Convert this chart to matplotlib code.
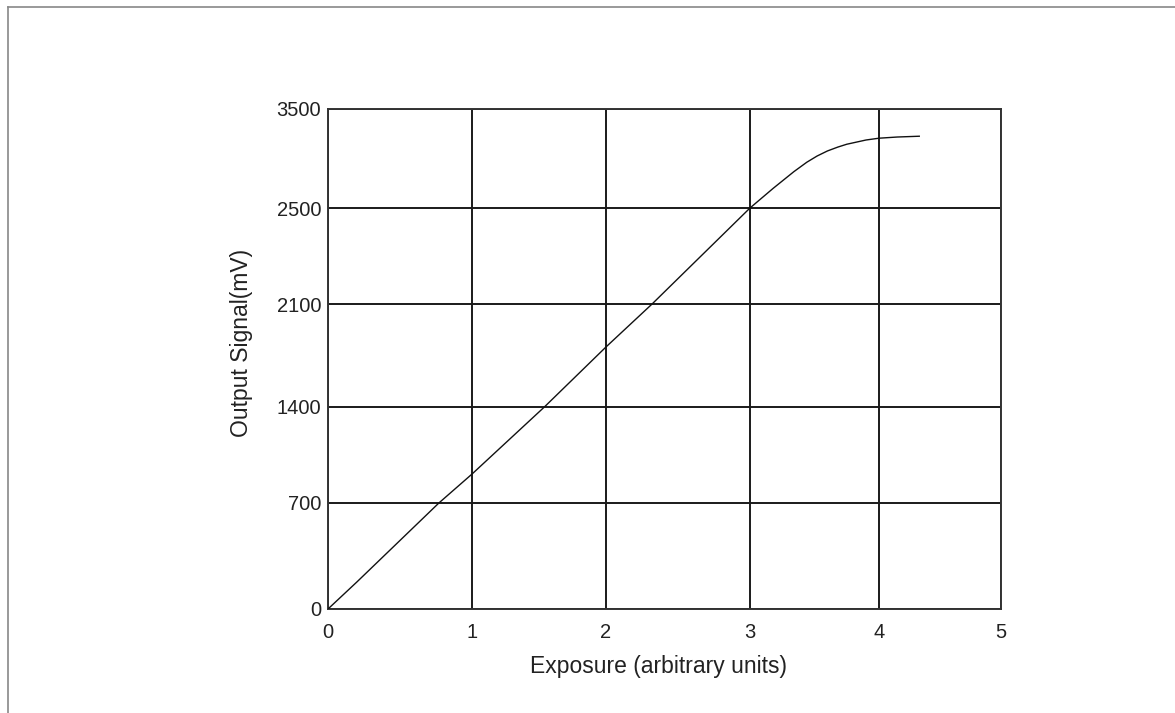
import numpy as np
import matplotlib
matplotlib.use("Agg")
import matplotlib.pyplot as plt
from matplotlib.lines import Line2D

# ---- data ----
exposure = [0.0, 0.2, 0.77, 1.0, 1.54, 2.0, 2.32, 3.0, 3.18, 3.34, 3.44,
            3.52, 3.60, 3.68, 3.75, 3.90, 4.0, 4.15, 4.33]
signal_mv = [0, 178, 700, 911, 1400, 1808, 2100, 2500, 2699, 2867, 2962,
             3025, 3076, 3115, 3144, 3187, 3205, 3217, 3225]

x_ticks = [0, 1, 2, 3, 4, 5]
y_ticks = [0, 700, 1400, 2100, 2500, 3500]
x_tick_labels = ["0", "1", "2", "3", "4", "5"]
y_tick_labels = ["0", "700", "1400", "2100", "2500", "3500"]

# positions of the (unevenly drawn) grid lines on the original chart
x_grid_pos = [0.0, 144.0, 278.0, 422.0, 551.0, 673.0]
y_grid_pos = [0.0, 106.0, 202.0, 305.0, 401.0, 500.0]

plt.rcParams['font.family'] = ['Liberation Sans', 'DejaVu Sans']

fig = plt.figure(figsize=(11.75, 7.13), dpi=100)
ax = fig.add_axes([328 / 1175, 104 / 713, 673 / 1175, 500 / 713])


def make_funcs(vals, pos):
    vals = np.asarray(vals, float)
    pos = np.asarray(pos, float)
    lo_s = (pos[1] - pos[0]) / (vals[1] - vals[0])
    hi_s = (pos[-1] - pos[-2]) / (vals[-1] - vals[-2])

    def fwd(v):
        v = np.asarray(v, float)
        return np.where(v < vals[0], pos[0] + (v - vals[0]) * lo_s,
                        np.where(v > vals[-1], pos[-1] + (v - vals[-1]) * hi_s,
                                 np.interp(v, vals, pos)))

    def inv(p):
        p = np.asarray(p, float)
        return np.where(p < pos[0], vals[0] + (p - pos[0]) / lo_s,
                        np.where(p > pos[-1], vals[-1] + (p - pos[-1]) / hi_s,
                                 np.interp(p, pos, vals)))
    return fwd, inv


ax.set_xscale('function', functions=make_funcs(x_ticks, x_grid_pos))
ax.set_yscale('function', functions=make_funcs(y_ticks, y_grid_pos))

ax.plot(exposure, signal_mv, color='#111111', linewidth=1.0, zorder=3)

ax.set_xlim(0, 5)
ax.set_ylim(0, 3500)
ax.set_xticks(x_ticks)
ax.set_xticklabels(x_tick_labels)
ax.set_yticks(y_ticks)
ax.set_yticklabels(y_tick_labels)
ax.minorticks_off()

ax.grid(True, color='#1a1a1a', linewidth=1.4)
for s in ax.spines.values():
    s.set_color('#333333')
    s.set_linewidth(1.4)

ax.tick_params(axis='both', length=0, labelsize=14.5, colors='#222222')
ax.tick_params(axis='x', pad=10)
ax.tick_params(axis='y', pad=5)

ax.set_xlabel("Exposure (arbitrary units)", fontsize=16.5, color='#222222', va='center')
ax.set_ylabel("Output Signal(mV)", fontsize=16.5, color='#222222', va='center')
ax.xaxis.set_label_coords((659 - 328) / 673, (609 - 666) / 500)
ax.yaxis.set_label_coords((241.5 - 328) / 673, (609 - 343) / 500)

# outer frame (top and left edges)
fig.add_artist(Line2D([8 / 1175, 8 / 1175], [0, 1 - 7 / 713], transform=fig.transFigure,
                      color='#888888', linewidth=1.2))
fig.add_artist(Line2D([8 / 1175, 1], [1 - 7 / 713, 1 - 7 / 713], transform=fig.transFigure,
                      color='#888888', linewidth=1.2))

fig.savefig("out.png", dpi=100)
